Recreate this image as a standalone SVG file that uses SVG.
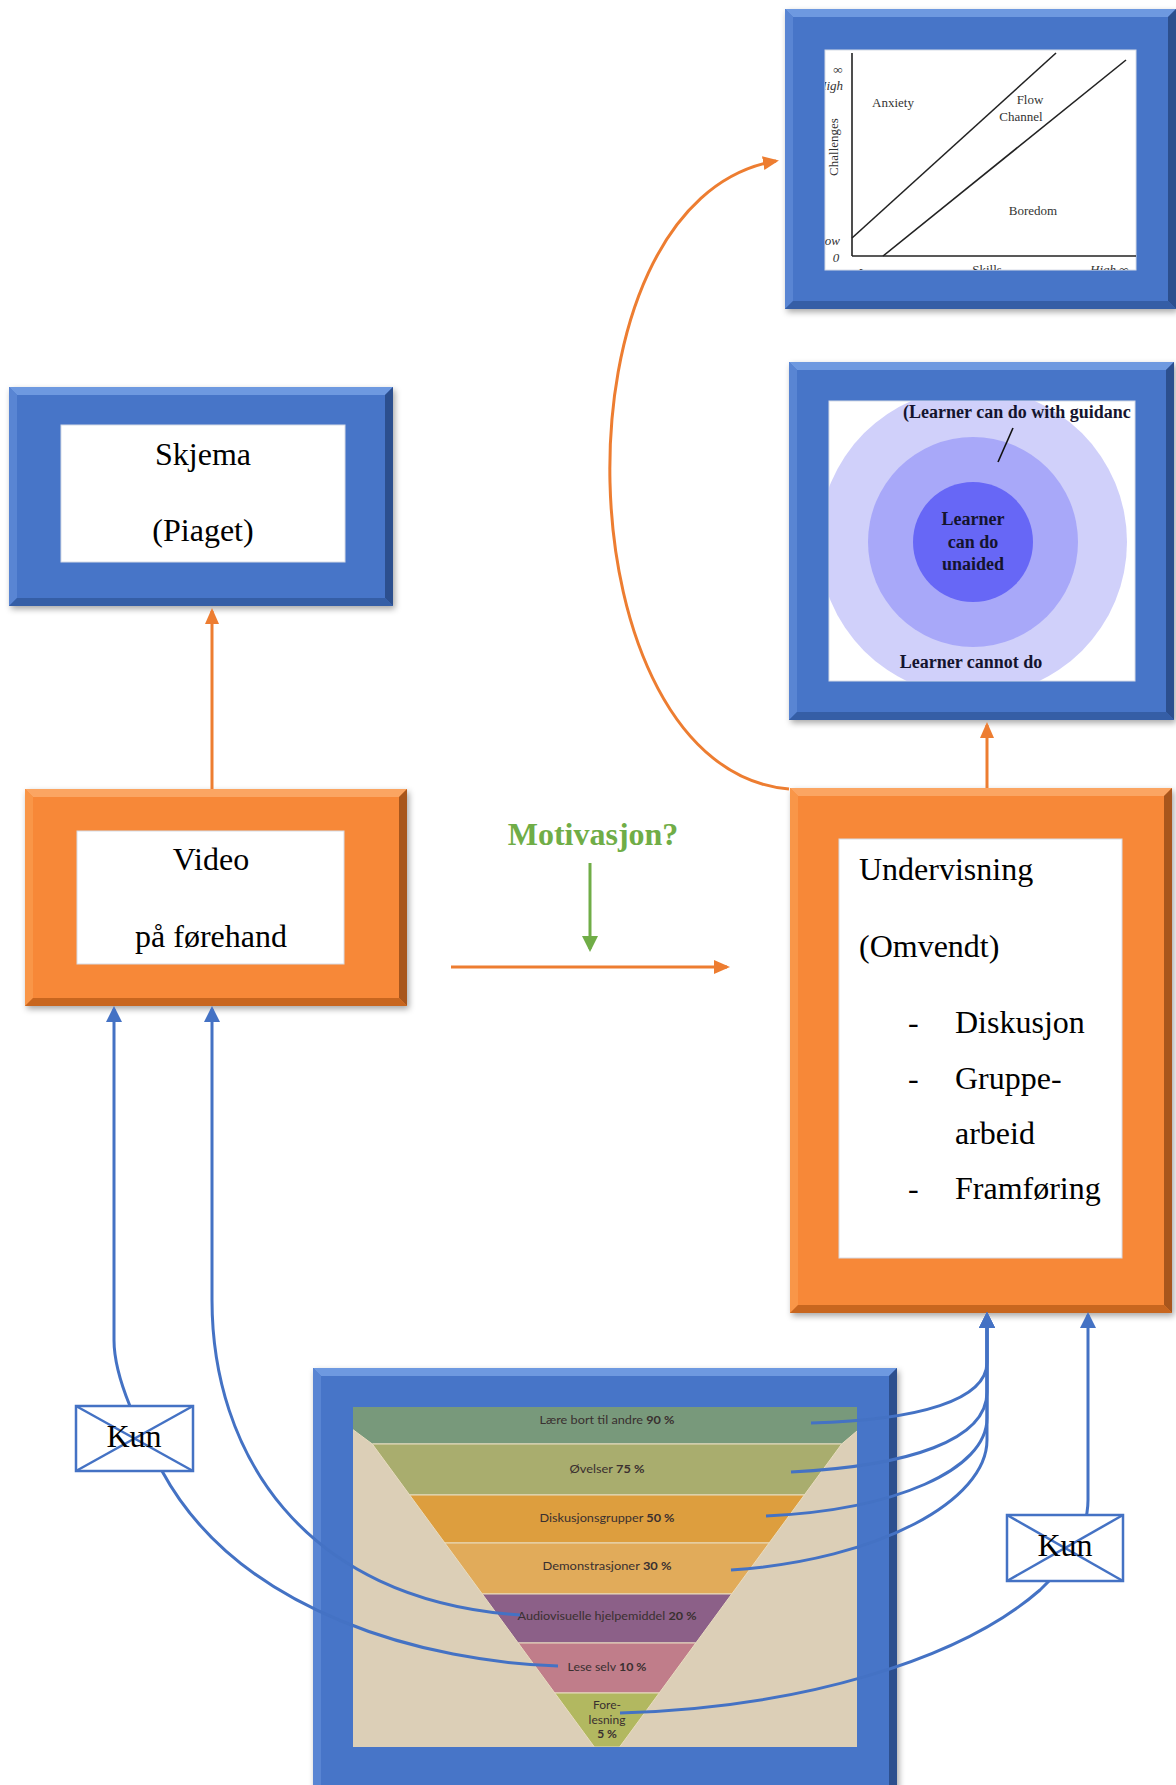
<svg xmlns="http://www.w3.org/2000/svg" width="1176" height="1785" viewBox="0 0 1176 1785">
<defs>
<style>
.bm{fill:#4675c8}.bt{fill:#6e99e0}.bl{fill:#5985d3}.br{fill:#2c4f8e}.bb{fill:#355ea6}
.om{fill:#f78838}.ot{fill:#fba562}.ol{fill:#f99648}.or{fill:#a8561c}.ob{fill:#c8661f}
.inner{fill:#ffffff;stroke:#d6dbe6;stroke-width:1}
.t32{font-family:"Liberation Serif","Times New Roman",serif;font-size:32px;fill:#000}
.cb{fill:none;stroke:#4472c4;stroke-width:3}
.co{fill:none;stroke:#ed7d31;stroke-width:3}
.cg{fill:none;stroke:#70ad47;stroke-width:3}
.ch{font-family:"Liberation Serif",serif;font-size:13px;fill:#333}
.chi{font-family:"Liberation Serif",serif;font-size:13px;font-style:italic;fill:#333}
.zpd{font-family:"Liberation Serif",serif;font-size:18px;font-weight:bold;fill:#14142e}
.pyr{font-family:Lato,"Open Sans",sans-serif;font-size:12px;fill:#3a3030}
.kun{fill:#fff;stroke:#4472c4;stroke-width:2.5}
</style>
<filter id="sh" x="-5%" y="-5%" width="112%" height="112%">
<feDropShadow dx="2" dy="3" stdDeviation="3" flood-color="#000" flood-opacity="0.35"/>
</filter>
<marker id="mb" viewBox="0 0 16 16" refX="13" refY="8" markerWidth="16" markerHeight="16" markerUnits="userSpaceOnUse" orient="auto">
<path d="M0,0 L16,8 L0,16 z" fill="#4472c4"/>
</marker>
<marker id="mo" viewBox="0 0 16 16" refX="13" refY="8" markerWidth="16" markerHeight="16" markerUnits="userSpaceOnUse" orient="auto">
<path d="M0,1 L16,8 L0,15 z" fill="#ed7d31"/>
</marker>
<marker id="mg" viewBox="0 0 16 16" refX="13" refY="8" markerWidth="16" markerHeight="16" markerUnits="userSpaceOnUse" orient="auto">
<path d="M0,0 L16,8 L0,16 z" fill="#70ad47"/>
</marker>
<clipPath id="clipA"><rect x="825" y="50" width="311" height="220"/></clipPath>
<clipPath id="clipB"><rect x="829" y="401" width="306" height="280"/></clipPath>
<clipPath id="clipF"><rect x="353" y="1407" width="504" height="340"/></clipPath>
</defs>
<rect x="0" y="0" width="1176" height="1785" fill="#ffffff"/>

<g id="flow-chart">
<rect class="bm" x="785" y="9" width="391" height="300" filter="url(#sh)"/>
<polygon class="bt" points="785,9 1176,9 1168,17 793,17"/>
<polygon class="bl" points="785,9 793,17 793,301 785,309"/>
<polygon class="br" points="1176,9 1176,309 1168,301 1168,17"/>
<polygon class="bb" points="785,309 793,301 1168,301 1176,309"/>
<rect class="inner" x="825" y="50" width="311" height="220"/>
<g clip-path="url(#clipA)">
<g stroke="#222" stroke-width="1.6" fill="none">
<line x1="852" y1="53" x2="852" y2="256"/>
<line x1="852" y1="256" x2="1140" y2="256"/>
<line x1="852" y1="238" x2="1056" y2="53"/>
<line x1="883" y1="256" x2="1126" y2="60"/>
</g>
<text class="ch" x="893" y="107" text-anchor="middle">Anxiety</text>
<text class="ch" x="1030" y="104" text-anchor="middle">Flow</text>
<text class="ch" x="1021" y="121" text-anchor="middle">Channel</text>
<text class="ch" x="1033" y="215" text-anchor="middle">Boredom</text>
<text class="ch" transform="translate(838,147) rotate(-90)" text-anchor="middle">Challenges</text>
<text class="chi" x="838" y="74" text-anchor="middle">∞</text>
<text class="chi" x="843" y="90" text-anchor="end">High</text>
<text class="chi" x="840" y="245" text-anchor="end">Low</text>
<text class="chi" x="836" y="262" text-anchor="middle">0</text>
<text class="ch" x="987" y="274" text-anchor="middle">Skills</text>
<text class="chi" x="858" y="277">Low</text>
<text class="chi" x="1090" y="274">High  ∞</text>
</g>
</g>

<g id="zpd">
<rect class="bm" x="789" y="362" width="385" height="358" filter="url(#sh)"/>
<polygon class="bt" points="789,362 1174,362 1166,370 797,370"/>
<polygon class="bl" points="789,362 797,370 797,712 789,720"/>
<polygon class="br" points="1174,362 1174,720 1166,712 1166,370"/>
<polygon class="bb" points="789,720 797,712 1166,712 1174,720"/>
<rect class="inner" x="829" y="401" width="306" height="280"/>
<g clip-path="url(#clipB)">
<circle cx="973" cy="542" r="154" fill="#d0d0fa"/>
<circle cx="973" cy="542" r="105" fill="#a8a8f9"/>
<circle cx="973" cy="542" r="60" fill="#6767f6"/>
<text class="zpd" x="903" y="418">(Learner can do with guidanc</text>
<line x1="1013" y1="428" x2="998" y2="462" stroke="#111" stroke-width="1.6"/>
<text class="zpd" x="973" y="525" text-anchor="middle">Learner</text>
<text class="zpd" x="973" y="548" text-anchor="middle">can do</text>
<text class="zpd" x="973" y="570" text-anchor="middle">unaided</text>
<text class="zpd" x="971" y="668" text-anchor="middle">Learner cannot do</text>
</g>
</g>

<g id="skjema">
<rect class="bm" x="9" y="387" width="384" height="219" filter="url(#sh)"/>
<polygon class="bt" points="9,387 393,387 385,395 17,395"/>
<polygon class="bl" points="9,387 17,395 17,598 9,606"/>
<polygon class="br" points="393,387 393,606 385,598 385,395"/>
<polygon class="bb" points="9,606 17,598 385,598 393,606"/>
<rect class="inner" x="61" y="425" width="284" height="137"/>
<text class="t32" x="203" y="465" text-anchor="middle">Skjema</text>
<text class="t32" x="203" y="541" text-anchor="middle">(Piaget)</text>
</g>

<g id="video">
<rect class="om" x="25" y="789" width="382" height="217" filter="url(#sh)"/>
<polygon class="ot" points="25,789 407,789 399,797 33,797"/>
<polygon class="ol" points="25,789 33,797 33,998 25,1006"/>
<polygon class="or" points="407,789 407,1006 399,998 399,797"/>
<polygon class="ob" points="25,1006 33,998 399,998 407,1006"/>
<rect class="inner" x="77" y="831" width="267" height="133"/>
<text class="t32" x="211" y="870" text-anchor="middle">Video</text>
<text class="t32" x="211" y="947" text-anchor="middle">på førehand</text>
</g>

<g id="undervisning">
<rect class="om" x="790" y="788" width="382" height="525" filter="url(#sh)"/>
<polygon class="ot" points="790,788 1172,788 1164,796 798,796"/>
<polygon class="ol" points="790,788 798,796 798,1305 790,1313"/>
<polygon class="or" points="1172,788 1172,1313 1164,1305 1164,796"/>
<polygon class="ob" points="790,1313 798,1305 1164,1305 1172,1313"/>
<rect class="inner" x="839" y="839" width="283" height="419"/>
<text class="t32" x="859" y="880">Undervisning</text>
<text class="t32" x="859" y="957">(Omvendt)</text>
<text class="t32" x="908" y="1033">-</text>
<text class="t32" x="955" y="1033">Diskusjon</text>
<text class="t32" x="908" y="1089">-</text>
<text class="t32" x="955" y="1089">Gruppe-</text>
<text class="t32" x="955" y="1144">arbeid</text>
<text class="t32" x="908" y="1199">-</text>
<text class="t32" x="955" y="1199">Framføring</text>
</g>

<g id="pyramid">
<rect class="bm" x="313" y="1368" width="584" height="427" filter="url(#sh)"/>
<polygon class="bt" points="313,1368 897,1368 889,1376 321,1376"/>
<polygon class="bl" points="313,1368 321,1376 321,1787 313,1795"/>
<polygon class="br" points="897,1368 897,1795 889,1787 889,1376"/>
<rect x="353" y="1407" width="504" height="340" fill="#dccfb7"/>
<g clip-path="url(#clipF)" stroke="#e8dcc0" stroke-width="1">
<polygon fill="#78997b" points="340,1400 870,1400 870,1420 841.7,1444 372.3,1444 340,1420"/>
<polygon fill="#a9ad6e" points="372.3,1444 841.7,1444 804.3,1495 409.7,1495"/>
<polygon fill="#dd9e3e" points="409.7,1495 804.3,1495 769.1,1543 444.9,1543"/>
<polygon fill="#e1ab5a" points="444.9,1543 769.1,1543 731.7,1594 482.3,1594"/>
<polygon fill="#8c6088" points="482.3,1594 731.7,1594 695.8,1643 518.2,1643"/>
<polygon fill="#c07d8a" points="518.2,1643 695.8,1643 659.2,1693 554.8,1693"/>
<polygon fill="#b2b860" points="554.8,1693 659.2,1693 619.6,1747 594.4,1747"/>
</g>
<text class="pyr" x="607" y="1424" text-anchor="middle" textLength="135" lengthAdjust="spacingAndGlyphs">Lære bort til andre <tspan font-weight="bold">90 %</tspan></text>
<text class="pyr" x="607" y="1473" text-anchor="middle" textLength="75" lengthAdjust="spacingAndGlyphs">Øvelser <tspan font-weight="bold">75 %</tspan></text>
<text class="pyr" x="607" y="1522" text-anchor="middle" textLength="135" lengthAdjust="spacingAndGlyphs">Diskusjonsgrupper <tspan font-weight="bold">50 %</tspan></text>
<text class="pyr" x="607" y="1570" text-anchor="middle" textLength="129" lengthAdjust="spacingAndGlyphs">Demonstrasjoner <tspan font-weight="bold">30 %</tspan></text>
<text class="pyr" x="607" y="1620" text-anchor="middle" textLength="179" lengthAdjust="spacingAndGlyphs">Audiovisuelle hjelpemiddel <tspan font-weight="bold">20 %</tspan></text>
<text class="pyr" x="607" y="1671" text-anchor="middle" textLength="79" lengthAdjust="spacingAndGlyphs">Lese selv <tspan font-weight="bold">10 %</tspan></text>
<text class="pyr" x="607" y="1709" text-anchor="middle">Fore-</text>
<text class="pyr" x="607" y="1724" text-anchor="middle">lesning</text>
<text class="pyr" x="607" y="1738" text-anchor="middle" font-weight="bold">5 %</text>
</g>

<g id="motivasjon">
<text x="593" y="845" text-anchor="middle" font-family="Liberation Serif, serif" font-size="32" font-weight="bold" fill="#70ad47">Motivasjon?</text>
</g>

<g id="connectors">
<path class="co" d="M212,789 L212,611" marker-end="url(#mo)"/>
<path class="co" d="M451,967 L727,967" marker-end="url(#mo)"/>
<path class="cg" d="M590,863 L590,949" marker-end="url(#mg)"/>
<path class="co" d="M987,788 L987,725" marker-end="url(#mo)"/>
<path class="co" d="M789,789 C 560,770 545,200 776,161" marker-end="url(#mo)"/>
<path class="cb" d="M558,1666 C 430,1662 240,1615 162,1471 C 140,1431 114,1380 114,1340 L114,1009" marker-end="url(#mb)"/>
<path class="cb" d="M520,1615 C 300,1600 212,1450 212,1300 L212,1009" marker-end="url(#mb)"/>
<path class="cb" d="M811,1423 C 920,1420 987,1400 987,1362 L987,1315" marker-end="url(#mb)"/>
<path class="cb" d="M791,1472 C 910,1466 987,1440 987,1392 L987,1315" marker-end="url(#mb)"/>
<path class="cb" d="M766,1516 C 895,1510 987,1470 987,1418 L987,1315" marker-end="url(#mb)"/>
<path class="cb" d="M731,1570 C 880,1560 987,1500 987,1440 L987,1315" marker-end="url(#mb)"/>
<path class="cb" d="M620,1713 C 800,1708 960,1660 1040,1590 C 1070,1562 1088,1530 1088,1500 L1088,1315" marker-end="url(#mb)"/>
</g>

<g id="kun-left">
<rect class="kun" x="76" y="1406" width="117" height="65"/>
<line x1="76" y1="1406" x2="193" y2="1471" stroke="#4472c4" stroke-width="2.5"/>
<line x1="193" y1="1406" x2="76" y2="1471" stroke="#4472c4" stroke-width="2.5"/>
<text class="t32" x="134" y="1447" text-anchor="middle">Kun</text>
</g>

<g id="kun-right">
<rect class="kun" x="1007" y="1515" width="116" height="66"/>
<line x1="1007" y1="1515" x2="1123" y2="1581" stroke="#4472c4" stroke-width="2.5"/>
<line x1="1123" y1="1515" x2="1007" y2="1581" stroke="#4472c4" stroke-width="2.5"/>
<text class="t32" x="1065" y="1556" text-anchor="middle">Kun</text>
</g>
</svg>
